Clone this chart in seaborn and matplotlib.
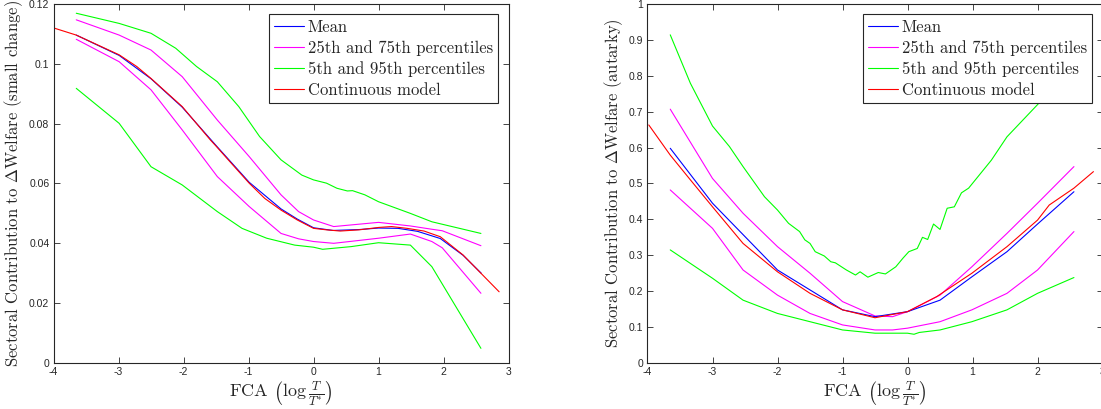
import numpy as np
import matplotlib
matplotlib.use("Agg")
import matplotlib.pyplot as plt
import seaborn as sns

# ---- data ----
# left panel: small change
xL_cont = [-4.0, -3.65, -2.99, -2.72, -2.5, -2.02, -1.585, -1.5, -1.25, -0.99, -0.75, -0.50, -0.25,
           0.0, 0.2, 0.41, 0.7, 1.0, 1.2, 1.44, 1.7, 1.95, 2.3, 2.575, 2.855]
yL_cont = [0.1120, 0.1096, 0.1030, 0.0991, 0.0951, 0.0857, 0.0745, 0.0725, 0.0664, 0.0601, 0.0550,
           0.0511, 0.0478, 0.0450, 0.0445, 0.0441, 0.0445, 0.0453, 0.0456, 0.0450, 0.0441, 0.0422,
           0.0361, 0.0300, 0.0238]
xL_mean = [-3.65, -2.99, -2.5, -2.02, -1.5, -0.99, -0.5, -0.25, 0.0, 0.3, 0.7, 1.0, 1.3, 1.6, 1.95, 2.3, 2.58]
yL_mean = [0.1096, 0.1028, 0.0950, 0.0855, 0.0727, 0.0604, 0.0515, 0.0481, 0.0452, 0.0443, 0.0446,
           0.0451, 0.0450, 0.0440, 0.0416, 0.0360, 0.0300]
xL_pct = [-3.65, -2.99, -2.50, -2.02, -1.48, -0.99, -0.50, -0.23, 0.0, 0.31, 1.0, 1.49, 1.82, 1.98, 2.575]
yL_p75 = [0.1147, 0.1096, 0.1046, 0.0957, 0.0812, 0.0690, 0.0562, 0.0506, 0.0478, 0.0456, 0.0470,
          0.0458, 0.0447, 0.0442, 0.0392]
yL_p25 = [0.1082, 0.1007, 0.0913, 0.0779, 0.0623, 0.0523, 0.0433, 0.0415, 0.0406, 0.0400, 0.0417,
          0.0431, 0.0406, 0.0385, 0.0233]
xL_p95 = [-3.65, -2.99, -2.50, -2.12, -1.80, -1.48, -1.15, -0.83, -0.50, -0.18, 0.0, 0.20, 0.36, 0.52,
          0.60, 0.79, 1.0, 1.49, 1.82, 2.575]
yL_p95 = [0.1169, 0.1135, 0.1102, 0.1052, 0.0991, 0.0940, 0.0857, 0.0757, 0.0679, 0.0628, 0.0612,
          0.0601, 0.0584, 0.0575, 0.0576, 0.0562, 0.0539, 0.0500, 0.0472, 0.0433]
xL_p5 = [-3.65, -2.99, -2.50, -2.02, -1.48, -1.10, -0.72, -0.29, 0.0, 0.14, 0.58, 1.0, 1.49, 1.82, 2.575]
yL_p5 = [0.0918, 0.0801, 0.0656, 0.0595, 0.0506, 0.0450, 0.0417, 0.0394, 0.0387, 0.0380, 0.0389,
         0.0402, 0.0394, 0.0322, 0.0049]

# right panel: autarky
xR_cont = [-3.98, -3.65, -3.34, -3.0, -2.53, -2.0, -1.5, -1.0, -0.5, 0.0, 0.45, 0.99, 1.53, 2.0, 2.18, 2.56, 2.86]
yR_cont = [0.663, 0.579, 0.510, 0.435, 0.333, 0.254, 0.194, 0.148, 0.126, 0.143, 0.185, 0.250, 0.324,
           0.398, 0.440, 0.487, 0.533]
xR_mean = [-3.65, -3.0, -2.0, -1.0, -0.5, 0.0, 0.5, 0.99, 1.53, 2.0, 2.56]
yR_mean = [0.598, 0.445, 0.259, 0.148, 0.129, 0.143, 0.175, 0.240, 0.310, 0.387, 0.477]
xR_pct = [-3.65, -3.0, -2.53, -2.0, -1.5, -1.0, -0.5, -0.23, 0.0, 0.5, 0.99, 1.53, 2.0, 2.56]
yR_p75 = [0.707, 0.514, 0.417, 0.324, 0.250, 0.171, 0.131, 0.129, 0.143, 0.189, 0.268, 0.361, 0.445, 0.547]
yR_p25 = [0.482, 0.375, 0.259, 0.189, 0.138, 0.106, 0.092, 0.092, 0.097, 0.115, 0.148, 0.194, 0.259, 0.366]
xR_p95 = [-3.65, -3.34, -3.0, -2.74, -2.53, -2.2, -2.0, -1.83, -1.66, -1.58, -1.50, -1.42, -1.28, -1.18,
          -1.11, -0.94, -0.80, -0.73, -0.61, -0.45, -0.34, -0.18, -0.07, 0.02, 0.15, 0.23, 0.31, 0.40,
          0.50, 0.61, 0.72, 0.83, 0.94, 1.29, 1.53, 2.07, 2.56]
yR_p95 = [0.914, 0.779, 0.660, 0.603, 0.547, 0.463, 0.426, 0.389, 0.366, 0.343, 0.333, 0.310, 0.298,
          0.282, 0.279, 0.259, 0.245, 0.254, 0.239, 0.252, 0.248, 0.268, 0.292, 0.310, 0.319, 0.350,
          0.344, 0.387, 0.372, 0.431, 0.435, 0.474, 0.487, 0.565, 0.630, 0.733, 0.830]
xR_p5 = [-3.65, -3.0, -2.53, -2.0, -1.5, -1.0, -0.5, 0.0, 0.1, 0.18, 0.5, 0.99, 1.53, 2.0, 2.56]
yR_p5 = [0.315, 0.236, 0.175, 0.138, 0.115, 0.092, 0.083, 0.083, 0.080, 0.085, 0.092, 0.115, 0.148, 0.194, 0.238]

legend_labels = ["Mean", "25th and 75th percentiles", "5th and 95th percentiles", "Continuous model"]
xticks = [-4, -3, -2, -1, 0, 1, 2, 3]
yticksL = [0, 0.02, 0.04, 0.06, 0.08, 0.1, 0.12]
yticksR = [0, 0.1, 0.2, 0.3, 0.4, 0.5, 0.6, 0.7, 0.8, 0.9, 1]

# ---- style (MATLAB-ish) ----
sns.set_style("ticks")
plt.rcParams.update({
    "font.family": ["Liberation Sans", "DejaVu Sans"],
    "mathtext.fontset": "cm",
    "axes.unicode_minus": False,
    "axes.edgecolor": "#262626",
    "axes.linewidth": 0.8,
    "xtick.color": "#262626",
    "ytick.color": "#262626",
    "xtick.direction": "in",
    "ytick.direction": "in",
    "xtick.major.size": 4,
    "ytick.major.size": 4,
    "xtick.major.width": 0.6,
    "ytick.major.width": 0.6,
    "xtick.top": True,
    "ytick.right": True,
})

CM = "cmr10"
c_mean, c_iqr, c_tail, c_cont = "#0000ff", "#ff00ff", "#00ff00", "#ff0000"
lw = 0.8

fig = plt.figure(figsize=(11.01, 4.09), dpi=100)
axL = fig.add_axes([0.0486, 0.1125, 0.4133, 0.8778])
axR = fig.add_axes([0.5881, 0.1125, 0.4133, 0.8778])


def draw(ax, xm, ym, xp, p25, p75, x95, p95, x5, p5, xc, yc):
    sns.lineplot(x=x5, y=p5, color=c_tail, lw=lw, ax=ax, sort=False)
    sns.lineplot(x=x95, y=p95, color=c_tail, lw=lw, ax=ax, sort=False)
    h_tail = ax.lines[-1]
    sns.lineplot(x=xp, y=p25, color=c_iqr, lw=lw, ax=ax, sort=False)
    sns.lineplot(x=xp, y=p75, color=c_iqr, lw=lw, ax=ax, sort=False)
    h_iqr = ax.lines[-1]
    sns.lineplot(x=xm, y=ym, color=c_mean, lw=lw, ax=ax, sort=False)
    h_mean = ax.lines[-1]
    sns.lineplot(x=xc, y=yc, color=c_cont, lw=lw, ax=ax, sort=False)
    h_cont = ax.lines[-1]
    leg = ax.legend([h_mean, h_iqr, h_tail, h_cont], legend_labels,
                    loc="upper right", bbox_to_anchor=(0.977, 0.971),
                    prop={"family": CM, "size": 12}, frameon=True, fancybox=False,
                    framealpha=1, edgecolor="#262626", handlelength=1.8, handletextpad=0.25,
                    borderpad=0.3, labelspacing=0.32, borderaxespad=0)
    leg.get_frame().set_linewidth(0.8)
    ax.set_xlim(-4, 3)
    ax.set_xticks(xticks)
    ax.set_xticklabels([str(t) for t in xticks])
    ax.tick_params(labelsize=7.5, pad=3)
    ax.set_xlabel(r"FCA $\left(\log\frac{T}{T^{*}}\right)$", family=CM, fontsize=13,
                  color="#262626", labelpad=1)


draw(axL, xL_mean, yL_mean, xL_pct, yL_p25, yL_p75, xL_p95, yL_p95, xL_p5, yL_p5, xL_cont, yL_cont)
axL.set_ylim(0, 0.12)
axL.set_yticks(yticksL)
axL.set_yticklabels(["0", "0.02", "0.04", "0.06", "0.08", "0.1", "0.12"])
axL.set_ylabel(r"Sectoral Contribution to $\Delta$Welfare (small change)", family=CM,
               fontsize=12, color="#262626", labelpad=3)

draw(axR, xR_mean, yR_mean, xR_pct, yR_p25, yR_p75, xR_p95, yR_p95, xR_p5, yR_p5, xR_cont, yR_cont)
axR.set_ylim(0, 1)
axR.set_yticks(yticksR)
axR.set_yticklabels(["0", "0.1", "0.2", "0.3", "0.4", "0.5", "0.6", "0.7", "0.8", "0.9", "1"])
axR.set_ylabel(r"Sectoral Contribution to $\Delta$Welfare (autarky)", family=CM,
               fontsize=12, color="#262626", labelpad=3)

fig.savefig("out.png", dpi=100)
